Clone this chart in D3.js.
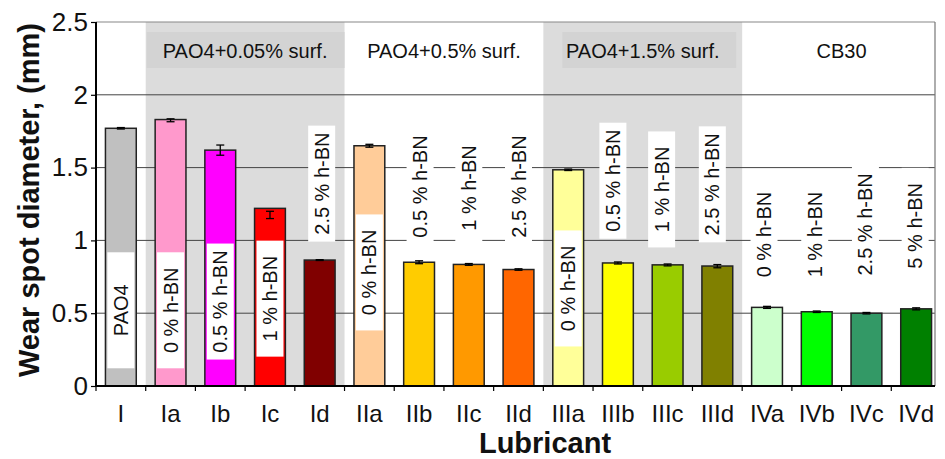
<!DOCTYPE html>
<html>
<head>
<meta charset="utf-8">
<script src="https://cdn.jsdelivr.net/npm/d3@7"></script>
<style>
  html, body { margin: 0; padding: 0; background: #fff; }
  svg { display: block; font-family: "Liberation Sans", Arial, sans-serif; }
</style>
</head>
<body>
<svg id="chart" width="945" height="459"></svg>
<script>
// ---- data ----
const categories = ["I","Ia","Ib","Ic","Id","IIa","IIb","IIc","IId","IIIa","IIIb","IIIc","IIId","IVa","IVb","IVc","IVd"];
const values     = [1.77, 1.83, 1.62, 1.22, 0.865, 1.65, 0.85, 0.835, 0.80, 1.485, 0.845, 0.832, 0.824, 0.54, 0.51, 0.50, 0.53];
const errLow     = [1.765, 1.815, 1.585, 1.15, 0.862, 1.64, 0.84, 0.829, 0.795, 1.48, 0.838, 0.825, 0.812, 0.533, 0.505, 0.495, 0.523];
const errHigh    = [1.775, 1.835, 1.655, 1.20, 0.868, 1.66, 0.86, 0.841, 0.805, 1.49, 0.852, 0.838, 0.834, 0.547, 0.515, 0.505, 0.537];
const colors     = ["#c0c0c0","#ff99cc","#ff00ff","#ff0000","#800000","#ffcc99","#ffcc00","#ff9900","#ff6600","#ffff99","#ffff00","#99cc00","#808000","#ccffcc","#00ff00","#339966","#008000"];
const barLabels  = ["PAO4","0 % h-BN","0.5 % h-BN","1 % h-BN","2.5 % h-BN","0 % h-BN","0.5 % h-BN","1 % h-BN","2.5 % h-BN","0 % h-BN","0.5 % h-BN","1 % h-BN","2.5 % h-BN","0 % h-BN","1 % h-BN","2.5 % h-BN","5 % h-BN"];
const groupNames = ["PAO4+0.05% surf.","PAO4+0.5% surf.","PAO4+1.5% surf.","CB30"];
const groupStart = ["Ia","IIa","IIIa","IVa"];
const groupEnd   = ["Id","IId","IIId","IVd"];
const groupShaded = [true, false, true, false];
const yTicks     = [0, 0.5, 1, 1.5, 2, 2.5];
const yTickLabels = ["0","0.5","1","1.5","2","2.5"];
const yTitle = "Wear spot diameter, (mm)";
const xTitle = "Lubricant";

// label anchor (centre, in axis units) and small horizontal nudge (px)
const labelAt = [0.52, 0.52, 0.58, 0.60, 1.39, 0.78, 1.37, 1.36, 1.37, 0.67, 1.41, 1.35, 1.385, 1.04, 1.04, 1.11, 1.10];
const labelDx = [0, 0, 0, 0, 2, 0, 1, 0, 0, 0, -5, -6, -5, -3, -2, -1, -1];

// ---- layout ----
const svg = d3.select("#chart");
const pL = 96, pR = 935, pT = 22, pB = 386;

const x = d3.scaleBand().domain(categories).range([pL, 941]).paddingInner(0.38).paddingOuter(0.19);
const step = x.step();
const y = d3.scaleLinear().domain([0, 2.5]).range([pB, pT]);

// shaded group backgrounds and header boxes
groupNames.forEach((g, i) => {
  const x0 = x(groupStart[i]) - (step - x.bandwidth()) / 2;
  const x1 = Math.min(x(groupEnd[i]) + x.bandwidth() + (step - x.bandwidth()) / 2, pR);
  if (groupShaded[i]) {
    svg.append("rect").attr("x", x0).attr("y", pT).attr("width", x1 - x0).attr("height", pB - pT).attr("fill", "#dcdcdc");
    const inset = i === 0 ? 1 : 19;
    const insetR = i === 0 ? 0 : 6;
    svg.append("rect").attr("x", x0 + inset).attr("y", pT + 10).attr("width", x1 - x0 - inset - insetR).attr("height", 36).attr("fill", "#d3d3d3");
  }
  svg.append("text").attr("x", (x0 + x1) / 2 + (i === 3 ? 3 : 0)).attr("y", 58)
    .attr("text-anchor", "middle").attr("font-size", 20).attr("fill", "#111").text(g);
});

// gridlines
svg.append("g").selectAll("line").data(yTicks.filter(t => t > 0 && t < 2.5)).join("line")
  .attr("x1", pL).attr("x2", pR).attr("y1", d => y(d)).attr("y2", d => y(d))
  .attr("stroke", "#444").attr("stroke-width", 1);

// top / right border
svg.append("line").attr("x1", pL).attr("x2", pR).attr("y1", pT).attr("y2", pT).attr("stroke", "#888").attr("stroke-width", 1.2);
svg.append("line").attr("x1", pR).attr("x2", pR).attr("y1", pT).attr("y2", pB).attr("stroke", "#777").attr("stroke-width", 1.2);

// bars
svg.append("g").selectAll("rect").data(categories).join("rect")
  .attr("x", d => x(d)).attr("width", x.bandwidth())
  .attr("y", (d, i) => y(values[i])).attr("height", (d, i) => y(0) - y(values[i]))
  .attr("fill", (d, i) => colors[i]).attr("stroke", "#222").attr("stroke-width", 1.5);

// error bars
const eb = svg.append("g").attr("stroke", "#000").attr("stroke-width", 1.3);
categories.forEach((c, i) => {
  const cx = x(c) + x.bandwidth() / 2;
  eb.append("line").attr("x1", cx).attr("x2", cx).attr("y1", y(errLow[i])).attr("y2", y(errHigh[i]));
  eb.append("line").attr("x1", cx - 4).attr("x2", cx + 4).attr("y1", y(errLow[i])).attr("y2", y(errLow[i]));
  eb.append("line").attr("x1", cx - 4).attr("x2", cx + 4).attr("y1", y(errHigh[i])).attr("y2", y(errHigh[i]));
});

// rotated labels with white boxes
const boxH = 116, boxW = 27;
categories.forEach((c, i) => {
  const cx = x(c) + x.bandwidth() / 2 + labelDx[i];
  const cy = y(labelAt[i]);
  svg.append("rect").attr("x", cx - boxW / 2).attr("y", cy - boxH / 2).attr("width", boxW).attr("height", boxH).attr("fill", "#fff");
  svg.append("text").attr("transform", `translate(${cx + 7},${cy}) rotate(-90)`)
    .attr("text-anchor", "middle").attr("font-size", 20).attr("fill", "#111").text(barLabels[i]);
});

// axes
const yAxis = d3.axisLeft(y).tickValues(yTicks).tickFormat((d, i) => yTickLabels[i]).tickSize(5).tickPadding(3);
const gy = svg.append("g").attr("transform", `translate(${pL},0)`).call(yAxis);
gy.select(".domain").attr("stroke", "#000").attr("stroke-width", 2).attr("d", `M0,${pT}V${pB}`);
gy.selectAll(".tick line").attr("stroke", "#000").attr("stroke-width", 1.2);
gy.selectAll(".tick text").attr("font-size", 26).attr("fill", "#111").attr("font-family", "Liberation Sans, Arial, sans-serif");

const gx = svg.append("g").attr("transform", `translate(0,${pB})`);
gx.append("line").attr("x1", pL - 1).attr("x2", pR).attr("y1", 0).attr("y2", 0).attr("stroke", "#000").attr("stroke-width", 2);
gx.selectAll("line.tk").data(categories).join("line").attr("class", "tk")
  .attr("x1", d => x(d) - (step - x.bandwidth()) / 2).attr("x2", d => x(d) - (step - x.bandwidth()) / 2)
  .attr("y1", 0).attr("y2", 5).attr("stroke", "#000").attr("stroke-width", 1.2);
gx.selectAll("text").data(categories).join("text")
  .attr("x", d => x(d) + x.bandwidth() / 2).attr("y", 36)
  .attr("text-anchor", "middle").attr("font-size", 24).attr("fill", "#111").text(d => d);

// titles
svg.append("text").attr("x", 545).attr("y", 453).attr("text-anchor", "middle")
  .attr("font-size", 29).attr("font-weight", "bold").attr("fill", "#111").text(xTitle);
svg.append("text").attr("transform", `translate(39,${200}) rotate(-90)`).attr("text-anchor", "middle")
  .attr("font-size", 29).attr("font-weight", "bold").attr("fill", "#111").text(yTitle);
</script>
</body>
</html>
